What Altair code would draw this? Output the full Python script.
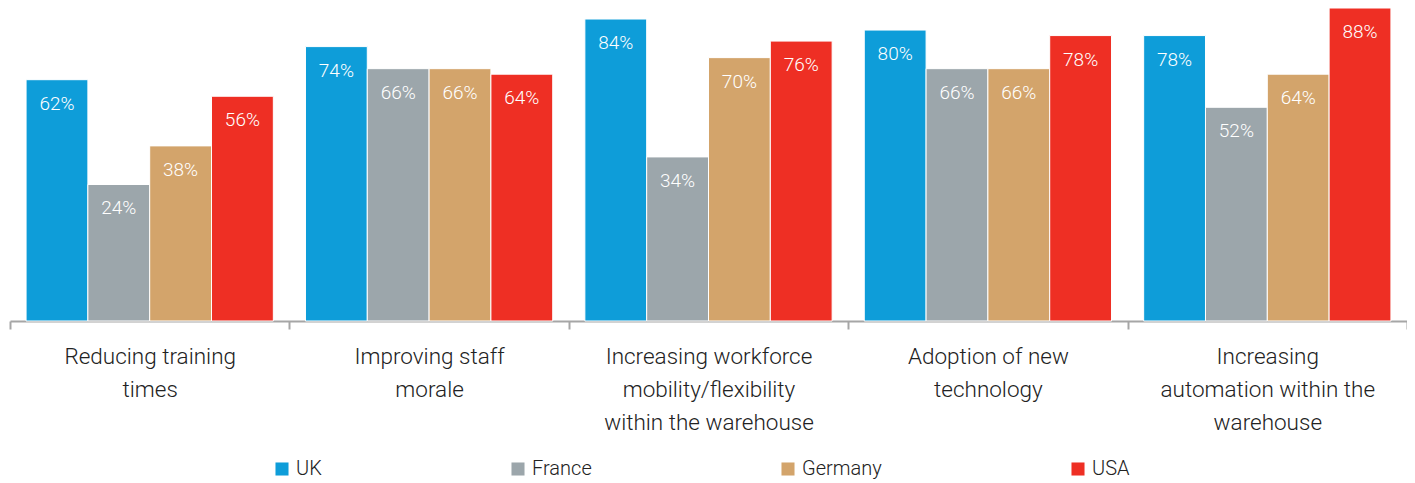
import altair as alt
import pandas as pd

categories = [
    "Reducing training|times",
    "Improving staff|morale",
    "Increasing workforce|mobility/flexibility|within the warehouse",
    "Adoption of new|technology",
    "Increasing|automation within the|warehouse",
]
countries = ["UK", "France", "Germany", "USA"]
colors = ["#0e9dd9", "#9ca6ab", "#d3a46b", "#ee2f24"]
uk = [62, 74, 84, 80, 78]
france = [24, 66, 34, 66, 52]
germany = [38, 66, 70, 66, 64]
usa = [56, 64, 76, 78, 88]

rows = []
for i, c in enumerate(categories):
    for name, vals in zip(countries, [uk, france, germany, usa]):
        rows.append({"category": c, "country": name, "value": vals[i],
                     "label": f"{vals[i]}%"})
df = pd.DataFrame(rows)

FONT = "Roboto"
WEIGHT = 300
base_val = -25.5

x = alt.X("category:N", sort=categories, title=None,
          scale=alt.Scale(paddingInner=0, paddingOuter=0),
          axis=alt.Axis(labelExpr="split(datum.label, '|')", labelAngle=0,
                        labelFontSize=22.5, labelFont=FONT, labelFontWeight=WEIGHT,
                        labelColor="#222222",
                        labelLineHeight=33, labelPadding=16, labelBaseline="top",
                        tickBand="extent", tickSize=8, tickWidth=2, tickColor="#a6a6a6",
                        domainColor="#a6a6a6", domainWidth=2, labelLimit=400))
y = alt.Y("value:Q", scale=alt.Scale(domain=[base_val, 88], nice=False, zero=False),
          axis=None)
xo = alt.XOffset("country:N", sort=countries,
                 scale=alt.Scale(paddingInner=0, paddingOuter=0.26))

bars = alt.Chart(df).mark_bar(stroke="white", strokeWidth=1).encode(
    x=x, xOffset=xo, y=y, y2=alt.datum(base_val),
    color=alt.Color("country:N", sort=countries,
                    scale=alt.Scale(domain=countries, range=colors),
                    legend=alt.Legend(title=None, orient="none", legendX=262, legendY=451,
                                      direction="horizontal", columns=4,
                                      symbolType="square", symbolSize=170,
                                      symbolStrokeWidth=0, labelFontSize=20,
                                      labelFont=FONT, labelFontWeight=WEIGHT,
                                      labelColor="#222222",
                                      labelOffset=4, columnPadding=186)),
)

labels = alt.Chart(df).mark_text(color="white", fontSize=19, font=FONT,
                                 fontWeight=WEIGHT,
                                 baseline="middle", dy=24).encode(
    x=alt.X("category:N", sort=categories), xOffset=xo, y=y, text="label:N")

chart = alt.layer(bars, labels).properties(
    width=1397, height=313,
    autosize=alt.AutoSizeParams(type="none"),
    padding={"left": 2, "top": 0, "right": 0, "bottom": 170},
).configure_view(stroke=None)

chart.save("out.html", embed_options={"renderer": "svg", "actions": False})
